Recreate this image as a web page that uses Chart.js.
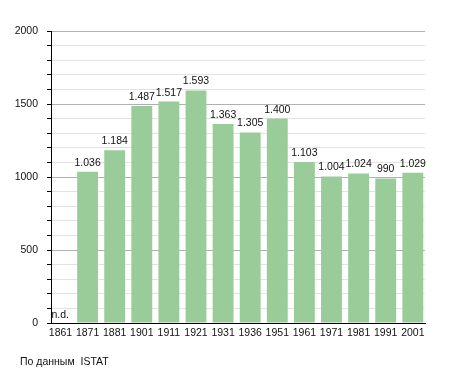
<!DOCTYPE html>
<html>
<head>
<meta charset="utf-8">
<script src="https://cdn.jsdelivr.net/npm/chart.js@4"></script>
<style>
  body{margin:0;background:#fff;}
  #wrap{position:relative;width:455px;height:373px;}
  #note{position:absolute;left:20px;top:355px;font:10.5px "Liberation Sans",Arial,sans-serif;color:#111;white-space:pre;}
</style>
</head>
<body>
<div id="wrap">
  <canvas id="myChart" width="455" height="373"></canvas>
  <div id="note">По данным  ISTAT</div>
</div>
<script>
// anni del censimento
var v_years = ["1861","1871","1881","1901","1911","1921","1931","1936","1951","1961","1971","1981","1991","2001"];
// abitanti (null = n.d.)
var v_pop = [null,1036,1184,1487,1517,1593,1363,1305,1400,1103,1004,1024,990,1029];
var v_yticks = [0,500,1000,1500,2000];

var v_font = {family:"'Liberation Sans', Arial, sans-serif", size:10.5};

// numero con punto delle migliaia
function f_fmt(p_n){
  return String(p_n).replace(/\B(?=(\d{3})+(?!\d))/g, ".");
}

// etichette sopra le barre
var v_labels = {
  id:"barlabels",
  afterDatasetsDraw:function(chart){
    var ctx = chart.ctx;
    var xs = chart.scales.x, ys = chart.scales.y;
    ctx.save();
    ctx.font = "10.5px 'Liberation Sans', Arial, sans-serif";
    ctx.fillStyle = "#111";
    ctx.textBaseline = "alphabetic";
    for(var i=0; i<v_pop.length; i++){
      var px = xs.getPixelForValue(i);
      if(v_pop[i]==null){
        ctx.textAlign = "left";
        ctx.fillText("n.d.", px-9, ys.getPixelForValue(0)-5);
      } else {
        ctx.textAlign = "center";
        ctx.fillText(f_fmt(v_pop[i]), px, ys.getPixelForValue(v_pop[i])-6);
      }
    }
    ctx.restore();
  }
};

var ctx = document.getElementById("myChart").getContext("2d");
var myChart = new Chart(ctx,{
  type:"bar",
  data:{
    datasets:[{
      data: v_years.map(function(y,i){ return {x:i, y:v_pop[i]}; }),
      backgroundColor:"#99cc99",
      borderWidth:0,
      barPercentage:0.77,
      categoryPercentage:1
    }]
  },
  options:{
    responsive:false,
    animation:false,
    layout:{padding:{left:0, right:30, top:31, bottom:0}},
    plugins:{legend:{display:false}, tooltip:{enabled:false}},
    scales:{
      x:{
        type:"linear",
        min:-0.35, max:13.45,
        offset:false,
        afterBuildTicks:function(s){ s.ticks = v_years.map(function(y,i){ return {value:i}; }); },
        afterFit:function(s){ s.height = 50; },
        grid:{display:false, drawTicks:false, offset:false},
        border:{display:true, color:"#000", width:1},
        ticks:{
          autoSkip:false, maxRotation:0, padding:4,
          color:"#111", font:v_font,
          callback:function(v){ return v_years[v]; }
        }
      },
      y:{
        min:0, max:2000,
        afterBuildTicks:function(s){
          var t=[]; for(var v=0; v<=2000; v+=100) t.push({value:v}); s.ticks=t;
        },
        afterFit:function(s){ s.width = 51; },
        grid:{
          color:function(c){ return c.tick && c.tick.value%500==0 ? "#b0b0b0" : "#e2e2e2"; },
          tickColor:"#000", tickLength:4, lineWidth:1
        },
        border:{display:true, color:"#000", width:1},
        ticks:{
          autoSkip:false, padding:9, color:"#111", font:v_font,
          callback:function(v){ return v_yticks.indexOf(v)>=0 ? String(v) : ""; }
        }
      }
    }
  },
  plugins:[v_labels]
});
</script>
</body>
</html>
